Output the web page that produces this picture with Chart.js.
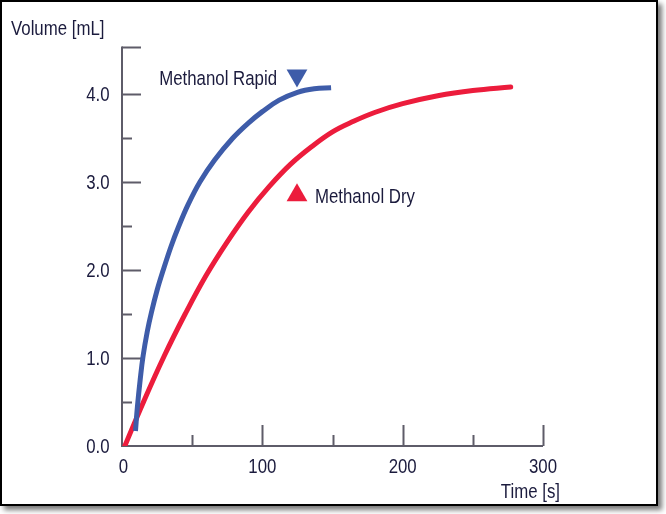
<!DOCTYPE html>
<html>
<head>
<meta charset="utf-8">
<script src="https://cdn.jsdelivr.net/npm/chart.js@4.4.1/dist/chart.umd.min.js"></script>
<style>
  body { margin: 0; background: #fff; }
  #frame {
    position: absolute; left: 0; top: 0;
    width: 654px; height: 502px;
    border: 2px solid #000;
    box-shadow: 4px 4px 5px #7a7a7a;
    background: #fff;
  }
</style>
</head>
<body>
<div id="frame"><canvas id="volumeChart" width="654" height="502"></canvas></div>
<script>
// Curves (time in s, volume in mL)
const rapidTime   = [9.6, 11, 13, 15, 18, 21, 25, 29.4, 35, 40, 47, 55.5, 66, 79, 90, 100, 112, 125, 137, 149];
const rapidVolume = [0.17, 0.45, 0.76, 1.02, 1.3, 1.52, 1.77, 2.0, 2.27, 2.48, 2.74, 3.0, 3.25, 3.5, 3.67, 3.80, 3.93, 4.02, 4.06, 4.07];

const dryTime   = [2, 15, 30, 45, 60, 75, 90, 105, 120, 135, 150, 165, 180, 200, 225, 250, 277];
const dryVolume = [0, 0.49, 1.02, 1.5, 1.94, 2.32, 2.66, 2.95, 3.2, 3.4, 3.57, 3.69, 3.79, 3.89, 3.98, 4.04, 4.08];

// Label markers (triangles) next to each curve
const markerNames  = ['Methanol Rapid', 'Methanol Dry'];
const markerTime   = [124.7, 124.7];
const markerVolume = [4.21, 2.85];

// Axis ticks
const xTicks = [0, 50, 100, 150, 200, 250, 300];
const xLabelled = [0, 100, 200, 300];
const yTicks = [0, 0.5, 1, 1.5, 2, 2.5, 3, 3.5, 4];
const yLabelled = [0, 1, 2, 3, 4];
const yAxisEnd = 4.54;

const BLUE = '#3e5ca9';
const RED = '#ec1c3c';
const AXIS = '#5e5c69';
const TEXT = '#1b1b3d';
const FONT = "20.5px 'Liberation Sans', Arial, sans-serif";
const SQUEEZE = 0.82; // narrow look of the original typeface

const toPoints = (xs, ys) => xs.map((x, i) => ({ x: x, y: ys[i] }));

function narrowText(ctx, text, x, y, align) {
    ctx.save();
    ctx.translate(x, y);
    ctx.scale(SQUEEZE, 1);
    ctx.textAlign = align;
    ctx.fillText(text, 0, 0);
    ctx.restore();
}

// Axis lines, inward tick marks and all text, placed from the scales
const axesPlugin = {
    id: 'axesPlugin',
    beforeDatasetsDraw(chart) {
        const ctx = chart.ctx;
        const xs = chart.scales.x;
        const ys = chart.scales.y;
        const x0 = xs.getPixelForValue(0);
        const y0 = ys.getPixelForValue(0);
        ctx.save();
        ctx.strokeStyle = AXIS;
        ctx.lineWidth = 2;
        ctx.beginPath();
        ctx.moveTo(x0, ys.getPixelForValue(yAxisEnd));
        ctx.lineTo(x0, y0);
        ctx.lineTo(xs.getPixelForValue(300), y0);
        ctx.stroke();

        ctx.beginPath();
        yTicks.concat([yAxisEnd]).forEach((v) => {
            if (v === 0) return;
            const py = Math.round(ys.getPixelForValue(v)) + 0.5;
            const len = (yLabelled.includes(v) || v === yAxisEnd) ? 19 : 10;
            ctx.moveTo(x0, py);
            ctx.lineTo(x0 + len, py);
        });
        ctx.stroke();

        ctx.beginPath();
        xTicks.forEach((v) => {
            if (v === 0) return;
            const px = Math.round(xs.getPixelForValue(v)) + 0.5;
            const len = xLabelled.includes(v) ? 21 : 11;
            ctx.moveTo(px, y0);
            ctx.lineTo(px, y0 - len);
        });
        ctx.stroke();
        ctx.restore();
    },
    afterDraw(chart) {
        const ctx = chart.ctx;
        const xs = chart.scales.x;
        const ys = chart.scales.y;
        const x0 = xs.getPixelForValue(0);
        const y0 = ys.getPixelForValue(0);
        ctx.save();
        ctx.fillStyle = TEXT;
        ctx.font = FONT;
        ctx.textBaseline = 'alphabetic';

        // tick labels
        yLabelled.forEach((v) => {
            narrowText(ctx, v.toFixed(1), x0 - 12.5, ys.getPixelForValue(v) + 7, 'right');
        });
        xLabelled.forEach((v) => {
            narrowText(ctx, String(v), xs.getPixelForValue(v) + (v === 0 ? 1.5 : 0), y0 + 27, 'center');
        });

        // axis titles
        narrowText(ctx, 'Volume [mL]', 9, 33, 'left');
        narrowText(ctx, 'Time [s]', 558, 496, 'right');

        // marker labels
        const meta = chart.getDatasetMeta(2);
        const p0 = meta.data[0];
        const p1 = meta.data[1];
        narrowText(ctx, markerNames[0], p0.x - 20, p0.y + 9, 'right');
        narrowText(ctx, markerNames[1], p1.x + 18, p1.y + 8, 'left');
        ctx.restore();
    }
};

const ctx = document.getElementById('volumeChart').getContext('2d');

new Chart(ctx, {
    type: 'scatter',
    data: {
        datasets: [
            {
                label: 'Methanol Rapid',
                data: toPoints(rapidTime, rapidVolume),
                showLine: true,
                borderColor: BLUE,
                borderWidth: 5,
                borderCapStyle: 'butt',
                tension: 0.4,
                pointRadius: 0,
            },
            {
                label: 'Methanol Dry',
                data: toPoints(dryTime, dryVolume),
                showLine: true,
                borderColor: RED,
                borderWidth: 5,
                borderCapStyle: 'round',
                tension: 0.4,
                pointRadius: 0,
            },
            {
                label: 'markers',
                data: toPoints(markerTime, markerVolume),
                showLine: false,
                pointStyle: 'triangle',
                pointRadius: 12,
                pointRotation: [180, 0],
                pointBackgroundColor: [BLUE, RED],
                pointBorderWidth: 0,
            },
        ],
    },
    options: {
        responsive: false,
        animation: false,
        layout: {
            padding: { top: 44.5, right: 113, bottom: 18, left: 0 },
        },
        plugins: {
            legend: { display: false },
            tooltip: { enabled: false },
        },
        scales: {
            x: {
                type: 'linear',
                min: 0,
                max: 300,
                afterBuildTicks: (scale) => { scale.ticks = xTicks.map((v) => ({ value: v })); },
                afterFit: (scale) => { scale.height = 40; },
                grid: { display: false, drawTicks: false },
                border: { display: false },
                ticks: { display: false },
            },
            y: {
                type: 'linear',
                min: 0,
                max: yAxisEnd,
                afterBuildTicks: (scale) => { scale.ticks = yTicks.map((v) => ({ value: v })); },
                afterFit: (scale) => { scale.width = 120; },
                grid: { display: false, drawTicks: false },
                border: { display: false },
                ticks: { display: false },
            },
        },
    },
    plugins: [axesPlugin],
});
</script>
</body>
</html>
